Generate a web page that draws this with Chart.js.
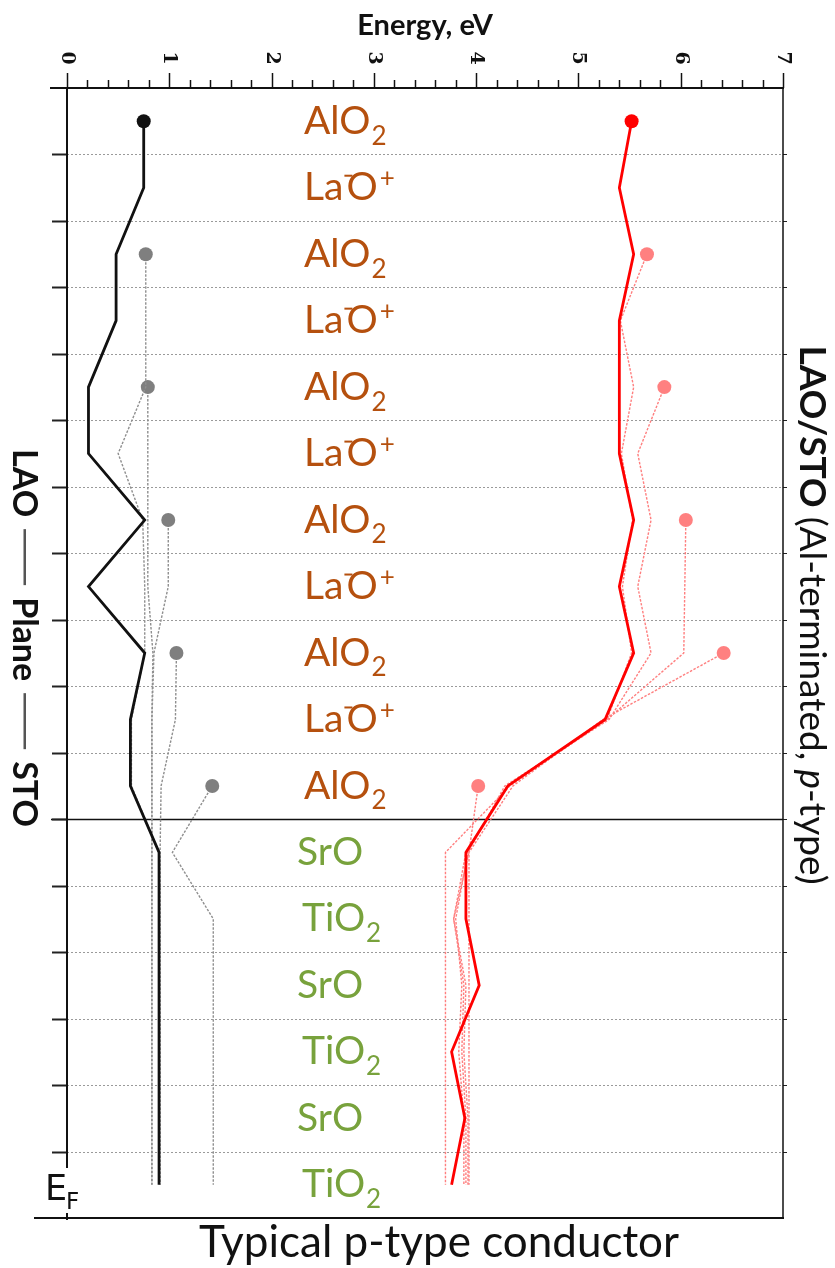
<!DOCTYPE html>
<html>
<head>
<meta charset="utf-8">
<script src="https://cdn.jsdelivr.net/npm/chart.js@4.4.1/dist/chart.umd.min.js"></script>
<style>
  html, body { margin: 0; padding: 0; background: #fff; }
  #wrap { width: 835px; height: 1268px; position: relative; }
</style>
</head>
<body>
<div id="wrap"><canvas id="chart" width="835" height="1268"></canvas></div>
<script>
// planes from the surface (top) down into the substrate
const planes = ['AlO2', 'LaO+', 'AlO2', 'LaO+', 'AlO2', 'LaO+', 'AlO2', 'LaO+', 'AlO2', 'LaO+', 'AlO2',
  'SrO', 'TiO2', 'SrO', 'TiO2', 'SrO', 'TiO2'];
const interfaceAfter = 10;
const energyTicks = [0, 1, 2, 3, 4, 5, 6, 7];

// valence band edge (black) and conduction band edge (red), 6 unit cells
const vb6 = [0.75, 0.75, 0.48, 0.48, 0.21, 0.21, 0.76, 0.21, 0.76, 0.62, 0.62, 0.90, 0.90, 0.90, 0.90, 0.90, 0.90];
const cb6 = [5.52, 5.40, 5.54, 5.40, 5.40, 5.40, 5.54, 5.40, 5.54, 5.26, 4.31, 3.90, 3.90, 4.03, 3.76, 3.89, 3.76];

// thinner films, first plane index given with each
const vb5 = [0.77, 0.77, 0.77, 0.50, 0.74, 0.76, 0.76, 0.63, 0.63, 0.90, 0.90, 0.90, 0.90, 0.90, 0.90];
const vb4 = [0.79, 0.79, 0.79, 0.79, 0.84, 0.83, 0.83, 0.83, 0.83, 0.83, 0.83, 0.83, 0.83];
const vb3 = [0.99, 0.99, 0.85, 0.83, 0.83, 0.83, 0.83, 0.83, 0.83, 0.83, 0.83];
const vb2 = [1.07, 1.06, 0.92, 0.91, 0.91, 0.91, 0.91, 0.91, 0.91];
const vb1 = [1.42, 1.03, 1.43, 1.43, 1.43, 1.43, 1.43];

const cb5 = [5.67, 5.41, 5.54, 5.42, 5.53, 5.43, 5.52, 5.28, 4.30, 3.90, 3.78, 3.88, 3.86, 3.90, 3.90];
const cb4 = [5.84, 5.58, 5.71, 5.58, 5.71, 5.30, 4.28, 3.92, 3.80, 3.86, 3.83, 3.88, 3.88];
const cb3 = [6.05, 6.04, 6.03, 5.28, 4.33, 3.70, 3.70, 3.70, 3.70, 3.70, 3.70];
const cb2 = [6.42, 5.24, 4.36, 3.93, 3.93, 3.93, 3.93, 3.93, 3.93];
const cb1 = [4.02, 3.93, 3.78, 3.90, 3.88, 3.92, 3.92];

const GRAY = '#8f8f8f', PINK = '#ff7f7f';

function series(values, start, color, dashed) {
  return {
    data: values.map((v, i) => ({ x: v, y: start + i })),
    borderColor: color,
    backgroundColor: color,
    borderWidth: dashed ? 1.4 : 2.8,
    borderDash: dashed ? [2.5, 1.5] : [],
    pointRadius: ctx => ctx.dataIndex === 0 ? 7 : 0,
    pointHoverRadius: 0,
    pointBorderWidth: 0,
    pointBackgroundColor: dashed ? (color === GRAY ? '#7f7f7f' : '#ff8080') : color,
    showLine: true,
    tension: 0,
    clip: false
  };
}

const labelFont = '"Lato", "Open Sans", sans-serif';

function chem(ctx, x, y, name, color) {
  ctx.fillStyle = color;
  ctx.textBaseline = 'middle';
  ctx.textAlign = 'left';
  ctx.font = '39px ' + labelFont;
  if (name.endsWith('2')) {
    const base = name.slice(0, -1);
    ctx.fillText(base, x, y);
    const w = ctx.measureText(base).width;
    ctx.font = '26px ' + labelFont;
    ctx.fillText('2', x + w + 1, y + 15);
  } else if (name.endsWith('+')) {
    ctx.fillText('La', x, y);
    const w = ctx.measureText('La').width;
    ctx.fillRect(x + w + 1, y - 13, 8, 2);
    ctx.fillText('O', x + w + 3, y);
    const w2 = ctx.measureText('O').width;
    ctx.font = '26px ' + labelFont;
    ctx.fillText('+', x + w + 5 + w2, y - 9);
  } else {
    ctx.fillText(name, x, y);
  }
}

const framePlugin = {
  id: 'frame',
  beforeDatasetsDraw(chart) {
    const { ctx, chartArea: a, scales: { x, y } } = chart;
    ctx.save();
    // plane boundaries
    for (let i = 0; i < planes.length - 1; i++) {
      const py = Math.round(y.getPixelForValue(i + 0.5)) + 0.5;
      if (i === interfaceAfter) {
        ctx.strokeStyle = '#111'; ctx.lineWidth = 1.6; ctx.setLineDash([]);
        ctx.beginPath(); ctx.moveTo(51, py); ctx.lineTo(a.right, py); ctx.stroke();
      } else {
        ctx.strokeStyle = '#9a9a9a'; ctx.lineWidth = 1; ctx.setLineDash([2, 2]);
        ctx.beginPath(); ctx.moveTo(a.left, py); ctx.lineTo(a.right, py); ctx.stroke();
      }
      ctx.setLineDash([]);
      ctx.strokeStyle = '#222'; ctx.lineWidth = 2;
      ctx.beginPath(); ctx.moveTo(52, py); ctx.lineTo(a.left, py); ctx.stroke();
      ctx.lineWidth = 1;
      ctx.beginPath(); ctx.moveTo(a.right, py); ctx.lineTo(a.right + 4, py); ctx.stroke();
    }
    // frame
    ctx.strokeStyle = '#111';
    ctx.lineWidth = 2;
    ctx.beginPath(); ctx.moveTo(50, a.top); ctx.lineTo(a.right + 1, a.top); ctx.stroke();
    ctx.beginPath(); ctx.moveTo(34, a.bottom); ctx.lineTo(a.right + 1, a.bottom); ctx.stroke();
    ctx.beginPath(); ctx.moveTo(a.left, a.top); ctx.lineTo(a.left, 1168); ctx.stroke();
    ctx.beginPath(); ctx.moveTo(a.left, a.bottom - 5); ctx.lineTo(a.left, a.bottom + 2); ctx.stroke();
    ctx.lineWidth = 1.5;
    ctx.beginPath(); ctx.moveTo(a.right, a.top); ctx.lineTo(a.right, a.bottom); ctx.stroke();
    // energy axis ticks
    ctx.lineWidth = 1.5;
    for (let v = 0; v <= 35; v++) {
      const px = Math.round(x.getPixelForValue(v / 5)) + 0.5;
      const len = v % 5 === 0 ? 15 : 8;
      ctx.beginPath(); ctx.moveTo(px, a.top); ctx.lineTo(px, a.top - len); ctx.stroke();
    }
    ctx.fillStyle = '#111';
    ctx.font = 'bold 19px "DejaVu Serif", serif';
    ctx.textAlign = 'center'; ctx.textBaseline = 'middle';
    energyTicks.forEach(t => {
      ctx.save();
      ctx.translate(x.getPixelForValue(t), 58);
      ctx.rotate(Math.PI / 2);
      ctx.fillText(String(t), 0, 0);
      ctx.restore();
    });
    ctx.font = 'bold 29px ' + labelFont;
    ctx.fillText('Energy, eV', (a.left + a.right) / 2, 26);

    // plane names
    planes.forEach((p, i) => {
      const py = y.getPixelForValue(i);
      const isSTO = i > interfaceAfter;
      let px = 304;
      if (p === 'SrO') px = 297;
      if (p === 'TiO2') px = 302;
      chem(ctx, px, py, p, isSTO ? '#78a23c' : '#b5500e');
    });

    // left title with long dashes
    ctx.fillStyle = '#111';
    ctx.save();
    ctx.translate(24, 638);
    ctx.rotate(Math.PI / 2);
    ctx.font = 'bold 34px ' + labelFont;
    ctx.textAlign = 'left';
    const words = ['LAO', 'Plane', 'STO'];
    const dashLen = 56, gap = 12;
    const wordsW = words.reduce((s, w) => s + ctx.measureText(w).width, 0);
    let lx = -(wordsW + 2 * dashLen + 4 * gap) / 2;
    words.forEach((w, k) => {
      ctx.fillText(w, lx, 0);
      lx += ctx.measureText(w).width + gap;
      if (k < 2) {
        ctx.fillStyle = '#555';
        ctx.fillRect(lx, -2, dashLen, 2.5);
        ctx.fillStyle = '#111';
        lx += dashLen + gap;
      }
    });
    ctx.restore();

    const parts = [
      ['LAO/STO ', 'bold'],
      ['(Al-terminated, ', ''],
      ['p', 'italic'],
      ['-type)', '']
    ];
    const rSize = 37;
    let total = 0;
    parts.forEach(([t, f]) => { ctx.font = f + ' ' + rSize + 'px ' + labelFont; total += ctx.measureText(t).width; });
    ctx.save();
    ctx.translate(812, 615);
    ctx.rotate(Math.PI / 2);
    ctx.textAlign = 'left';
    let cx = -total / 2;
    parts.forEach(([t, f]) => {
      ctx.font = f + ' ' + rSize + 'px ' + labelFont;
      ctx.fillText(t, cx, 0);
      cx += ctx.measureText(t).width;
    });
    ctx.restore();

    // Fermi level and caption
    ctx.textAlign = 'left';
    ctx.font = '35px "DejaVu Sans", sans-serif';
    ctx.fillText('E', 45, 1191);
    ctx.font = '23px "DejaVu Sans", sans-serif';
    ctx.fillText('F', 66, 1203);
    ctx.textAlign = 'center';
    ctx.font = '44px ' + labelFont;
    ctx.fillText('Typical p-type conductor', 439, 1243);
    ctx.restore();
  }
};

new Chart(document.getElementById('chart'), {
  type: 'scatter',
  data: {
    datasets: [
      series(vb6, 0, '#111111', false),
      series(cb6, 0, '#ff0000', false),
      series(vb5, 2, GRAY, true),
      series(vb4, 4, GRAY, true),
      series(vb3, 6, GRAY, true),
      series(vb2, 8, GRAY, true),
      series(vb1, 10, GRAY, true),
      series(cb5, 2, PINK, true),
      series(cb4, 4, PINK, true),
      series(cb3, 6, PINK, true),
      series(cb2, 8, PINK, true),
      series(cb1, 10, PINK, true)
    ]
  },
  options: {
    responsive: false,
    animation: false,
    devicePixelRatio: 1,
    layout: { padding: { left: 67, right: 52, top: 88, bottom: 50 } },
    plugins: { legend: { display: false }, tooltip: { enabled: false } },
    scales: {
      x: { type: 'linear', min: 0, max: 7, display: false },
      y: { type: 'linear', min: -0.5, max: 16.5, reverse: true, display: false }
    }
  },
  plugins: [framePlugin]
});
</script>
</body>
</html>
